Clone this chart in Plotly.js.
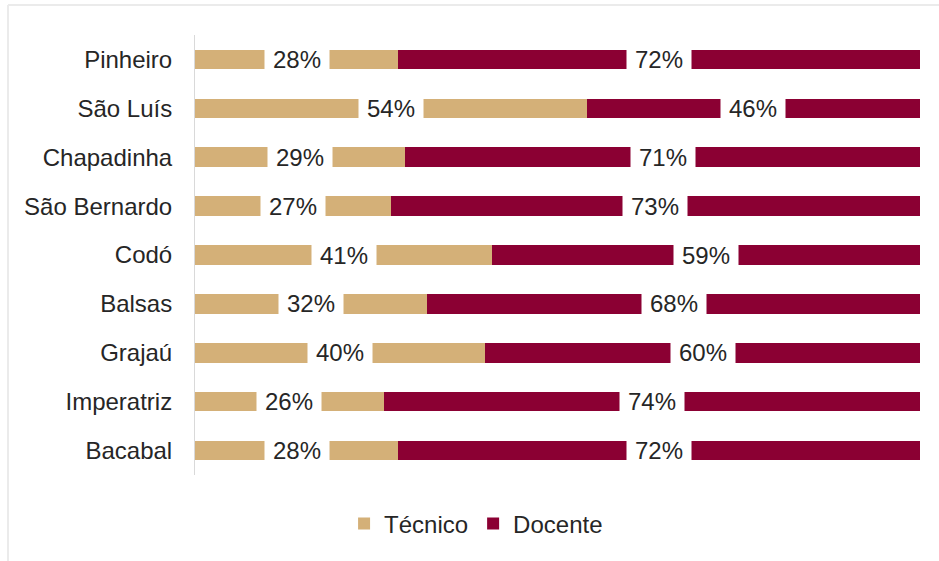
<!DOCTYPE html>
<html>
<head>
<meta charset="utf-8">
<script src="https://cdn.plot.ly/plotly-3.0.1.min.js"></script>
<style>html,body{margin:0;padding:0;background:#fff;}#chart{width:939px;height:561px;}</style>
</head>
<body>
<div id="chart"></div>
<script>
const categories = ["Pinheiro","São Luís","Chapadinha","São Bernardo","Codó","Balsas","Grajaú","Imperatriz","Bacabal"];
const tecnico = [28,54,29,27,41,32,40,26,28];
const docente = [72,46,71,73,59,68,60,74,72];
const seriesNames = ["Técnico","Docente"];
const colors = ["#D4B078","#8B0033"];

const font = {family: "Liberation Sans, Arial, sans-serif", size: 24, color: "#262626"};

const traces = [
  {type:"bar", orientation:"h", name:seriesNames[0], y:categories, x:tecnico,
   marker:{color:colors[0], line:{width:0}}, hoverinfo:"skip"},
  {type:"bar", orientation:"h", name:seriesNames[1], y:categories, x:docente,
   marker:{color:colors[1], line:{width:0}}, hoverinfo:"skip"}
];

const annotations = [];
categories.forEach((c,i)=>{
  annotations.push({x:tecnico[i]/2, y:c, xref:"x", yref:"y", text:tecnico[i]+"%",
    showarrow:false, bgcolor:"#ffffff", borderpad:8, font:font});
  annotations.push({x:tecnico[i]+docente[i]/2, y:c, xref:"x", yref:"y", text:docente[i]+"%",
    showarrow:false, bgcolor:"#ffffff", borderpad:8, font:font});
});

const layout = {
  width:939, height:561,
  margin:{l:195, r:19, t:35, b:86, pad:0},
  paper_bgcolor:"#ffffff", plot_bgcolor:"#ffffff",
  barmode:"stack", bargap:0.6,
  font:font,
  showlegend:true,
  legend:{orientation:"h", xref:"container", yref:"container", x:0.507, xanchor:"center",
          y:1-524/561, yanchor:"middle", font:font, traceorder:"normal"},
  xaxis:{range:[0,100], showgrid:false, zeroline:false, showticklabels:false, ticks:"", showline:false, fixedrange:true},
  yaxis:{autorange:"reversed", type:"category", showgrid:false, zeroline:false, ticks:"",
         showline:true, linecolor:"#D9D9D9", linewidth:1, ticklabelstandoff:17, tickfont:font},
  annotations:annotations,
  shapes:[
    {type:"line", xref:"paper", yref:"paper", x0:-187/725, x1:1.1, y0:1+30/439.5, y1:1+30/439.5,
     line:{color:"#EBEBEB", width:2}},
    {type:"line", xref:"paper", yref:"paper", x0:-187/725, x1:-187/725, y0:1+30/439.5, y1:-0.3,
     line:{color:"#EBEBEB", width:2}}
  ]
};

Plotly.newPlot("chart", traces, layout, {displayModeBar:false, staticPlot:true});
</script>
</body>
</html>
